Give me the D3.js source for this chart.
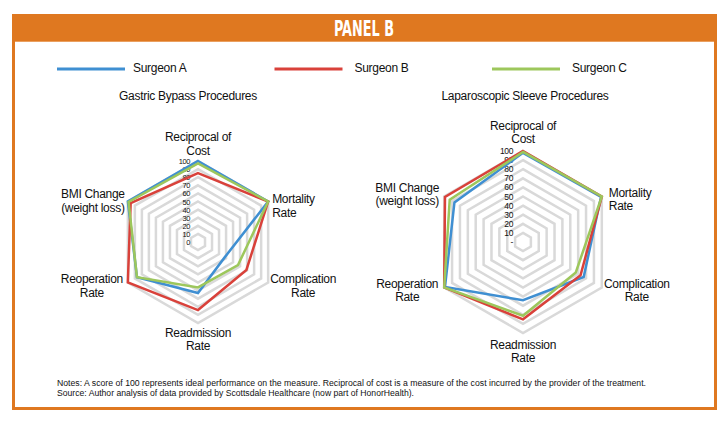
<!DOCTYPE html>
<html>
<head>
<meta charset="utf-8">
<script src="https://cdn.jsdelivr.net/npm/d3@7"></script>
<style>
  body { margin: 0; background: #fff; }
  svg text { font-family: "Liberation Sans", Arial, sans-serif; fill: #111; }
</style>
</head>
<body>
<svg id="chart" width="728" height="429"></svg>
<script>
// axes, clockwise from the top
var axes = [
    ["Reciprocal of", "Cost"],
    ["Mortality", "Rate"],
    ["Complication", "Rate"],
    ["Readmission", "Rate"],
    ["Reoperation", "Rate"],
    ["BMI Change", "(weight loss)"]
];
var surgeons = ["Surgeon A", "Surgeon B", "Surgeon C"];
var colors = ["#3f8fd2", "#d9413a", "#9dc75c"];
var ticks = [0, 10, 20, 30, 40, 50, 60, 70, 80, 90, 100];

// gastric bypass scores
var bypassA = [100, 100, 38, 63, 87, 100];
var bypassB = [85, 100, 69, 84, 100, 96];
var bypassC = [97, 100, 57, 56, 87, 99];

// laparoscopic sleeve scores
var sleeveA = [98, 99, 77, 64, 99, 87];
var sleeveB = [100, 100, 73, 85, 100, 99];
var sleeveC = [99, 100, 67, 81, 100, 93];

var notes = [
    "Notes: A score of 100 represents ideal performance on the measure. Reciprocal of cost is a measure of the cost incurred by the provider of the treatment.",
    "Source: Author analysis of data provided by Scottsdale Healthcare (now part of HonorHealth)."
];

var svg = d3.select("#chart");
var orange = "#df7820";

// frame + header
svg.append("rect").attr("x", 13.5).attr("y", 15.5).attr("width", 702).attr("height", 393)
    .attr("fill", "#fff").attr("stroke", orange).attr("stroke-width", 3);
svg.append("rect").attr("x", 12).attr("y", 14).attr("width", 705).attr("height", 27).attr("fill", orange);
svg.append("line").attr("x1", 15).attr("x2", 714).attr("y1", 41.5).attr("y2", 41.5)
    .attr("stroke", "#eaa060").attr("stroke-width", 1);
svg.append("text").attr("x", 364).attr("y", 36).attr("text-anchor", "middle")
    .style("font-family", "'Liberation Sans Narrow', 'DejaVu Sans Condensed', sans-serif")
    .style("font-weight", "bold").style("font-size", "22px").style("fill", "#fff")
    .attr("textLength", 60).attr("lengthAdjust", "spacingAndGlyphs")
    .text("PANEL B");

// legend
var legX = d3.scalePoint().domain(surgeons).range([57, 492]);
var leg = svg.selectAll(".leg").data(surgeons).enter().append("g").attr("class", "leg")
    .attr("transform", function(d){ return "translate(" + legX(d) + ",69)"; });
leg.append("line").attr("x1", 0).attr("x2", 68).attr("y1", 0).attr("y2", 0)
    .attr("stroke", function(d, i){ return colors[i]; }).attr("stroke-width", 3);
leg.append("text").attr("x", function(d, i){ return i == 0 ? 76 : 80; }).attr("y", 3)
    .style("font-size", "12px").style("letter-spacing", "-0.3px").text(function(d){ return d; });

function radar(opt){
    var g = svg.append("g").attr("transform", "translate(" + opt.cx + "," + opt.cy + ")");
    var r = d3.scaleLinear().domain([0, 100]).range([0, opt.R]);
    var ang = d3.scaleLinear().domain([0, axes.length]).range([0, 2 * Math.PI]);
    var line = d3.lineRadial()
        .angle(function(d, i){ return ang(i); })
        .radius(function(d){ return r(d); })
        .curve(d3.curveLinearClosed);

    // grid rings
    g.selectAll(".ring").data(ticks.slice(1)).enter().append("path")
        .attr("d", function(t){ return line(axes.map(function(){ return t; })); })
        .attr("fill", "none").attr("stroke", "#d9d9d9").attr("stroke-width", 2.5);

    // tick labels
    g.selectAll(".tick").data(ticks).enter().append("text")
        .attr("x", -opt.tickGap).attr("y", function(t){ return -r(t) + 3; })
        .attr("text-anchor", "end").style("font-size", opt.tickSize).style("letter-spacing", "-0.4px")
        .text(function(t){ return t == 0 ? opt.zero : t; });

    // series
    g.selectAll(".series").data(opt.series).enter().append("path")
        .attr("d", function(d){ return line(d); })
        .attr("fill", "none").attr("stroke", function(d, i){ return colors[i]; })
        .attr("stroke-width", 2.5).attr("stroke-linejoin", "miter");

    // axis labels
    axes.forEach(function(lab, i){
        var a = ang(i);
        var vx = r(100) * Math.sin(a), vy = -r(100) * Math.cos(a);
        var o = opt.labels[i];
        var t = g.append("text").attr("text-anchor", o[3])
            .style("font-size", "12px").style("letter-spacing", "-0.3px");
        lab.forEach(function(s, k){
            t.append("tspan").attr("x", vx + o[0]).attr("y", vy + o[1] + k * o[2]).text(s);
        });
    });

    svg.append("text").attr("x", opt.titleX).attr("y", 100).attr("text-anchor", "middle")
        .style("font-size", "12px").style("letter-spacing", "-0.3px").text(opt.title);
}

radar({
    cx: 198, cy: 242, R: 81, tickGap: 8, zero: "0", tickSize: "7.5px",
    series: [bypassA, bypassB, bypassC],
    title: "Gastric Bypass Procedures", titleX: 188,
    labels: [[0, -20, 14, "middle"], [4, 1, 14, "start"], [35, 0, 14, "middle"],
             [0, 14, 13, "middle"], [-36, 0, 14, "middle"], [-35, -4, 14, "middle"]]
});
radar({
    cx: 523, cy: 242, R: 91, tickGap: 10, zero: "-", tickSize: "8.5px",
    series: [sleeveA, sleeveB, sleeveC],
    title: "Laparoscopic Sleeve Procedures", titleX: 525,
    labels: [[0, -21, 13, "middle"], [7, 0, 13, "start"], [35, 0, 13, "middle"],
             [0, 16, 13, "middle"], [-37, 0, 13, "middle"], [-37, -5, 13, "middle"]]
});

// notes
svg.selectAll(".note").data(notes).enter().append("text")
    .attr("x", 57).attr("y", function(d, i){ return 386 + i * 10; })
    .attr("textLength", function(d, i){ return i == 0 ? 589 : 357; })
    .attr("lengthAdjust", "spacingAndGlyphs")
    .style("font-size", "8.5px").text(function(d){ return d; });
</script>
</body>
</html>
